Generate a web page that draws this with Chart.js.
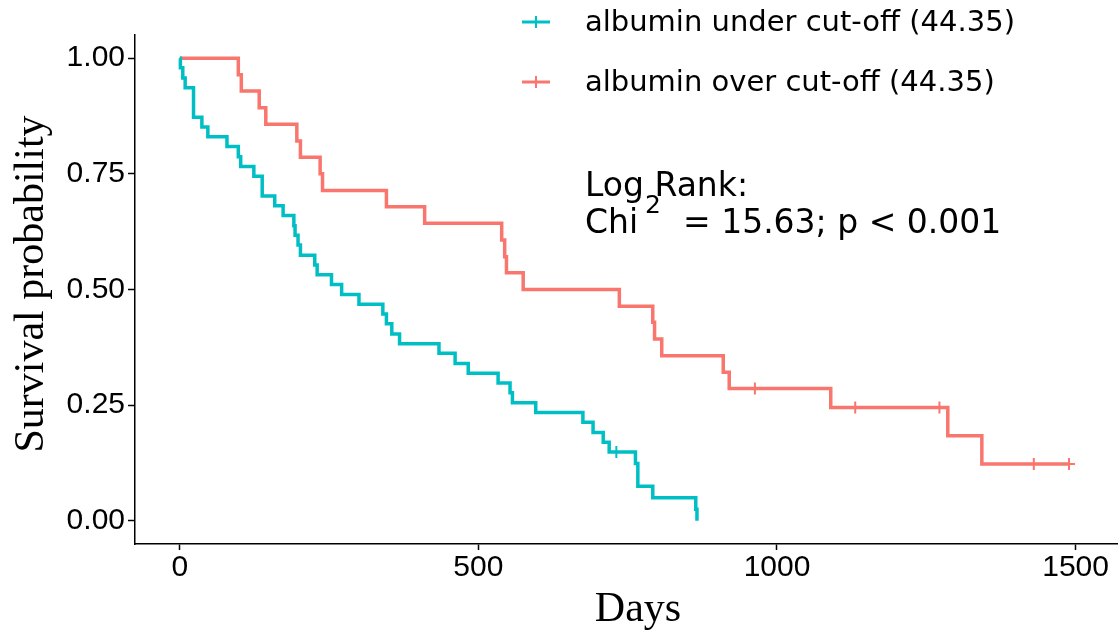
<!DOCTYPE html>
<html>
<head>
<meta charset="utf-8">
<script src="https://cdn.jsdelivr.net/npm/chart.js@4/dist/chart.umd.min.js"></script>
<style>
html,body{margin:0;padding:0;background:#fff}
canvas{display:block}
</style>
</head>
<body>
<canvas id="km" width="1118" height="636"></canvas>
<script>
// Kaplan-Meier steps (days, survival)
const underTime=[0,1,5,9,23,37,47,79,98,102,124,138,159,173,191,193,198,202,226,230,254,271,300,340,346,355,368,434,461,483,533,553,557,596,675,692,709,719,763,767,792,864,866]
const underSurv=[1,0.979,0.957,0.936,0.872,0.851,0.830,0.809,0.787,0.766,0.745,0.702,0.681,0.660,0.638,0.617,0.596,0.574,0.553,0.532,0.511,0.489,0.468,0.447,0.426,0.404,0.383,0.362,0.340,0.319,0.298,0.277,0.255,0.234,0.213,0.191,0.170,0.149,0.124,0.075,0.050,0.025,0]
const underCensorTime=[731]
const underCensorSurv=[0.149]

const overTime=[0,98,103,133,144,196,202,235,239,346,410,539,544,547,575,736,792,795,807,910,920,1090,1286,1343,1489]
const overSurv=[1,0.964,0.929,0.893,0.857,0.821,0.786,0.750,0.714,0.679,0.643,0.607,0.571,0.536,0.500,0.464,0.429,0.393,0.357,0.321,0.286,0.245,0.184,0.123,0.123]
const overCensorTime=[963,1131,1272,1430,1489]
const overCensorSurv=[0.286,0.245,0.245,0.123,0.123]

const groupLabels=["albumin under cut-off (44.35)","albumin over cut-off (44.35)"]
const xTicks=[0,500,1000,1500]
const yTicks=[0,0.25,0.5,0.75,1]

const CYAN="#00BFC4"
const RED="#F8766D"

const pts=(xs,ys)=>xs.map((x,i)=>({x:x,y:ys[i]}))

function curve(label,xs,ys,color){
return {label:label,data:pts(xs,ys),borderColor:color,backgroundColor:color,borderWidth:3.5,
stepped:"before",pointRadius:0,fill:false,order:2}
}

function censor(xs,ys,color){
return {label:"censor",data:pts(xs,ys),showLine:false,pointStyle:"cross",pointRadius:6,
pointBorderWidth:2,borderColor:color,backgroundColor:color,order:1}
}

const overlay={
id:"overlay",
afterDraw(chart){
const c=chart.ctx
c.save()
c.fillStyle="#000"
// axis titles
c.font="42px 'Liberation Serif'"
c.textAlign="center"
c.textBaseline="alphabetic"
c.fillText("Days",638,621)
c.save()
c.translate(43,284)
c.rotate(-Math.PI/2)
c.fillText("Survival probability",0,0)
c.restore()
// legend
const colors=[CYAN,RED]
const rows=[22,82]
c.font="29px 'DejaVu Sans'"
c.textAlign="left"
c.textBaseline="middle"
groupLabels.forEach((t,i)=>{
const y=rows[i]
c.strokeStyle=colors[i]
c.lineWidth=3
c.beginPath()
c.moveTo(522,y);c.lineTo(550,y)
c.stroke()
c.lineWidth=2
c.beginPath()
c.moveTo(536,y-6);c.lineTo(536,y+6)
c.stroke()
c.fillText(t,585,y+1)
})
// log rank annotation
c.textBaseline="alphabetic"
c.font="33px 'DejaVu Sans'"
c.fillText("Log Rank:",585,196)
c.fillText("Chi",585,233)
c.font="25px 'DejaVu Sans'"
c.fillText("2",645,213)
c.font="33px 'DejaVu Sans'"
c.fillText("= 15.63; p < 0.001",683,233)
c.restore()
}
}

new Chart(document.getElementById("km"),{
type:"line",
data:{datasets:[
curve(groupLabels[0],underTime,underSurv,CYAN),
curve(groupLabels[1],overTime,overSurv,RED),
censor(underCensorTime,underCensorSurv,CYAN),
censor(overCensorTime,overCensorSurv,RED)
]},
options:{
responsive:false,
animation:false,
devicePixelRatio:1,
layout:{autoPadding:false,padding:{top:35,right:0,left:0,bottom:0}},
plugins:{legend:{display:false},tooltip:{enabled:false}},
scales:{
x:{type:"linear",min:-75,max:1571,
afterBuildTicks:s=>{s.ticks=xTicks.map(v=>({value:v}))},
afterFit:s=>{s.height=92},
grid:{drawOnChartArea:false,tickLength:6,tickColor:"#000",tickWidth:1.5},
border:{color:"#000",width:1.5},
ticks:{color:"#000",font:{family:"Liberation Sans",size:30},padding:0,maxRotation:0,
callback:v=>String(v)}},
y:{type:"linear",min:-0.05,max:1.05,
afterBuildTicks:s=>{s.ticks=yTicks.map(v=>({value:v}))},
afterFit:s=>{s.width=135},
grid:{drawOnChartArea:false,tickLength:7,tickColor:"#000",tickWidth:1.5},
border:{color:"#000",width:1.5},
ticks:{color:"#000",font:{family:"Liberation Sans",size:30},padding:3,
callback:v=>Number(v).toFixed(2)}}
}
},
plugins:[overlay]
})
</script>
</body>
</html>
